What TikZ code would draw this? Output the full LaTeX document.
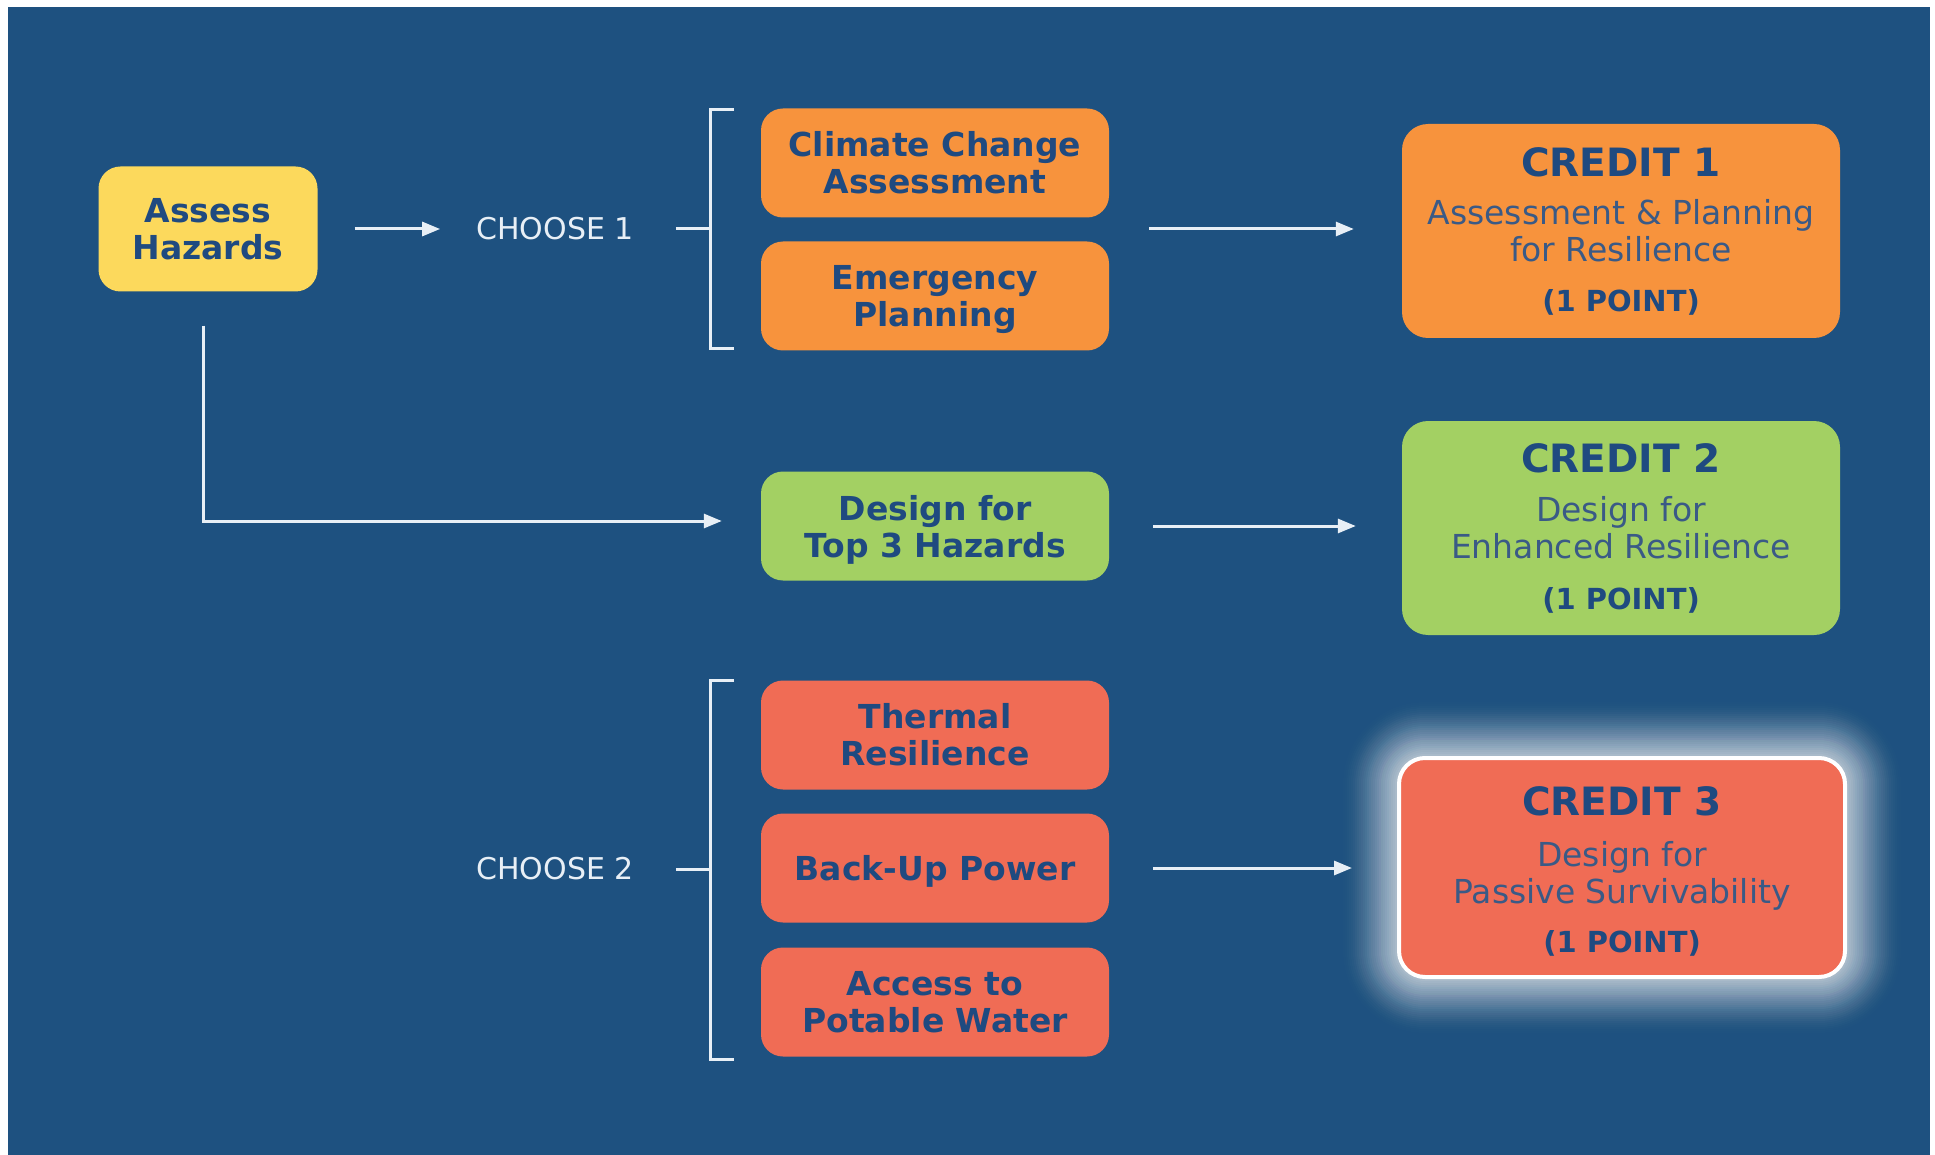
\documentclass[tikz,border=0pt]{standalone}
\usepackage{fontspec}
\setmainfont{DejaVu Sans}
\usetikzlibrary{arrows.meta,calc}
\definecolor{bg}{HTML}{1E5180}
\definecolor{navy}{HTML}{1F4A80}
\definecolor{subnavy}{HTML}{3A5A86}
\definecolor{linec}{HTML}{E8EFF6}
\definecolor{yel}{HTML}{FCD95C}
\definecolor{ora}{HTML}{F7933D}
\definecolor{grn}{HTML}{A3D063}
\definecolor{red}{HTML}{F06C55}
\begin{document}
\begin{tikzpicture}[x=1pt,y=-1pt,
  box/.style={rounded corners=22pt, minimum width=348pt, minimum height=109pt, align=center, text=navy, font=\bfseries\fontsize{33}{37}\selectfont, inner sep=0pt},
  credit/.style={rounded corners=26pt, minimum width=438pt, minimum height=214pt, align=center, text=subnavy, font=\fontsize{33}{37}\selectfont, inner sep=0pt},
  sub/.style={align=center, text=subnavy, font=\fontsize{33}{37}\selectfont, inner sep=0pt},
  ctitle/.style={text=navy, font=\bfseries\fontsize{39}{44}\selectfont, inner sep=0pt},
  cpts/.style={text=navy, font=\bfseries\fontsize{29}{32}\selectfont, inner sep=0pt},
  choose/.style={text=linec, font=\fontsize{30}{34}\selectfont, inner sep=0pt},
  conn/.style={draw=linec, line width=3pt},
  arr/.style={conn, -{Triangle[length=18pt,width=14pt]}},
]
\fill[white] (0,0) rectangle (1935,1155);
\fill[bg] (8,7) rectangle (1930,1155);
\useasboundingbox (0,0) rectangle (1935,1155);

% left column
\node[box, fill=yel, minimum width=219pt, minimum height=125pt] (AH) at (208,229) {Assess\\Hazards};
\node[choose] (ch1) at (555,229) {CHOOSE 1};
\node[choose] (ch2) at (555,869) {CHOOSE 2};

% middle column
\node[box, fill=ora] (CC) at (935,163) {Climate Change\\Assessment};
\node[box, fill=ora, text depth=0pt] (EP) at (935,296) {Emergency\\Planning};
\node[box, fill=grn, text depth=-7pt] (D3) at (935,526) {Design for\\Top 3 Hazards};
\node[box, fill=red] (TR) at (935,735) {Thermal\\Resilience};
\node[box, fill=red, text depth=0pt] (BP) at (935,868) {Back-Up Power};
\node[box, fill=red] (PW) at (935,1002) {Access to\\Potable Water};

% credits
\node[credit, fill=ora] (C1) at (1621,231) {Assessment \& Planning\\for Resilience};
\node[ctitle] (C1t) at ($(C1.center)+(0,-69)$) {CREDIT 1};
\node[cpts] (C1p) at ($(C1.center)+(0,71)$) {(1 POINT)};

\node[credit, fill=grn] (C2) at (1621,528) {Design for\\Enhanced Resilience};
\node[ctitle] (C2t) at ($(C2.center)+(0,-70)$) {CREDIT 2};
\node[cpts] (C2p) at ($(C2.center)+(0,72)$) {(1 POINT)};

\foreach \r [evaluate=\r as \op using {0.075*(1-\r/62)}] in {2,4,...,60} {
  \fill[white, opacity=\op, rounded corners={(26+\r)*1pt}] (1399-\r,758-\r) rectangle (1845+\r,977+\r);
}
\node[credit, fill=red, draw=white, line width=4pt, minimum width=446pt, minimum height=219pt] (C3) at (1622,867.5) {};
\node[sub] (C3s) at ($(C3.center)+(0,8)$) {Design for\\Passive Survivability};
\node[ctitle] (C3t) at ($(C3.center)+(0,-66)$) {CREDIT 3};
\node[cpts] (C3p) at ($(C3.center)+(0,76)$) {(1 POINT)};

% brackets
\coordinate (b1a) at (734,110);
\coordinate (b1m) at (710,229);
\coordinate (b1b) at (734,349);
\coordinate (b2a) at (734,680);
\coordinate (b2m) at (710,869);
\coordinate (b2b) at (734,1059);
\draw[conn] (b1a) -- ++(-24,0) |- (b1b);
\draw[conn] (b2a) -- ++(-24,0) |- (b2b);

% connectors
\draw[arr, shorten <=37pt, shorten >=36pt] (AH.east) -- (ch1.west);
\draw[conn, shorten <=42pt] (ch1.east) -- (b1m);
\draw[conn, shorten <=42pt] (ch2.east) -- (b2m);
\draw[arr, shorten <=34pt, shorten >=39pt] ([xshift=-5pt]AH.south) |- ([yshift=5pt]D3.west);
\coordinate (o1) at (1109,229);
\draw[arr, shorten <=40pt, shorten >=48pt] (o1) -- (C1.west |- o1);
\draw[arr, shorten <=44pt, shorten >=46pt] (D3.east) -- (C2.west |- D3.east);
\draw[arr, shorten <=44pt, shorten >=45pt] (BP.east) -- (C3.west |- BP.east);
\end{tikzpicture}
\end{document}
